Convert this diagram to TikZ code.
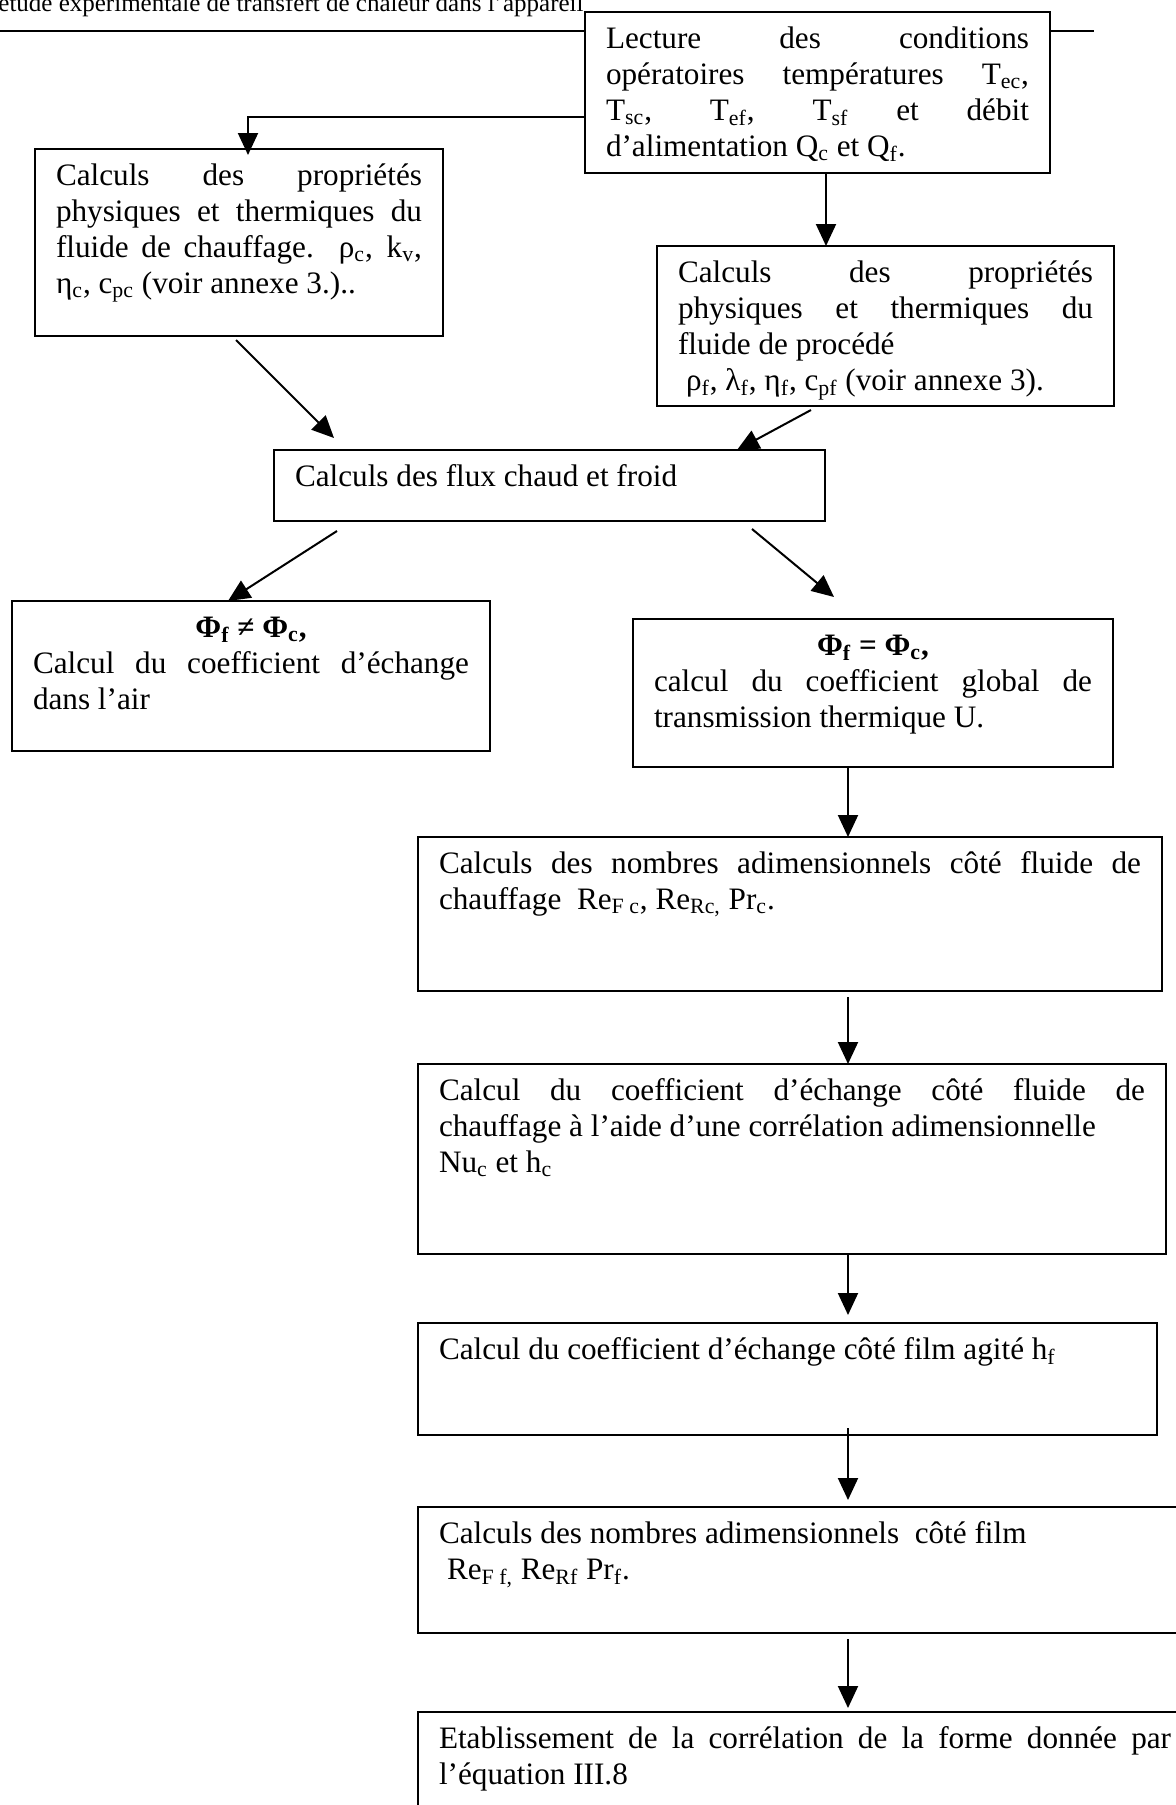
\documentclass[tikz,border=0pt]{standalone}
\usepackage{fontspec}
\setmainfont{Liberation Serif}
\usetikzlibrary{arrows.meta,calc}
\newcommand{\sbs}[1]{\textsubscript{#1}}
\newcommand{\bodyfnt}{\fontsize{15.6}{18}\selectfont}
\newcommand{\jl}[1]{\makebox[\linewidth][s]{\strut#1}\par}
\newcommand{\mkbox}[6]{%
  \node[flowbox] (#1) at (#2,#3) {\parbox[c][\dimexpr 0.5pt*(#5-#3)-11pt\relax][t]{\dimexpr 0.5pt*(#4-#2)-21pt\relax}{\bodyfnt\parindent=0pt\strut #6}};}
\tikzset{
  flowbox/.style={draw, line width=1.2pt, anchor=north west, inner xsep=10.5pt, inner ysep=5.5pt, outer sep=0pt},
  arr/.style={line width=1pt, -{Triangle[length=11pt,width=10pt]}},
  rule/.style={line width=1.1pt}
}
\begin{document}
\begin{tikzpicture}[x=0.5pt,y=-0.5pt]
\useasboundingbox (0,0) rectangle (1175,1805);
\node[anchor=base west, inner sep=0pt, font=\fontsize{12.5}{14}\selectfont] (hdr) at (-2,11) {etude expérimentale de transfert de chaleur dans l’appareil};

\mkbox{top}{585}{12}{1050}{173}{\jl{Lecture des conditions}\jl{opératoires températures T\sbs{ec},}\jl{T\sbs{sc}, T\sbs{ef}, T\sbs{sf} et débit}d’alimentation Q\sbs{c} et Q\sbs{f}.}
\mkbox{b2}{35}{149}{443}{336}{\jl{Calculs des propriétés}\jl{physiques et thermiques du}\jl{fluide de chauffage. ρ\sbs{c}, k\sbs{v},}η\sbs{c}, c\sbs{pc} (voir annexe 3.)..}
\mkbox{b3}{657}{246}{1114}{406}{\jl{Calculs des propriétés}\jl{physiques et thermiques du}fluide de procédé\par\hspace{4pt}ρ\sbs{f}, λ\sbs{f}, η\sbs{f}, c\sbs{pf} (voir annexe 3).}
\mkbox{b4}{274}{450}{825}{521}{Calculs des flux chaud et froid}
\mkbox{b5}{12}{601}{490}{751}{{\centering\textbf{Φ\sbs{f} ≠ Φ\sbs{c},}\par}\jl{Calcul du coefficient d’échange}dans l’air}
\mkbox{b6}{633}{619}{1113}{767}{{\centering\textbf{Φ\sbs{f} = Φ\sbs{c},}\par}\jl{calcul du coefficient global de}transmission thermique U.}
\mkbox{b7}{418}{837}{1162}{991}{\jl{Calculs des nombres adimensionnels côté fluide de}chauffage\ \ Re\sbs{F c}, Re\sbs{Rc,} Pr\sbs{c}.}
\mkbox{b8}{418}{1064}{1166}{1254}{\jl{Calcul du coefficient d’échange côté fluide de}chauffage à l’aide d’une corrélation adimensionnelle\par Nu\sbs{c} et h\sbs{c}}
\mkbox{b9}{418}{1323}{1157}{1435}{Calcul du coefficient d’échange côté film agité h\sbs{f}}
\mkbox{b10}{418}{1507}{1192}{1633}{Calculs des nombres adimensionnels\ \ côté film\par\hspace{4pt}Re\sbs{F f,} Re\sbs{Rf} Pr\sbs{f}.}
\mkbox{b11}{418}{1712}{1192}{1840}{\jl{Etablissement de la corrélation de la forme donnée par}l’équation III.8}

\coordinate (hl) at (0,31);
\coordinate (hr) at (1094,31);
\draw[rule] (hl) -- (top.west |- hl);
\draw[rule] (top.east |- hr) -- (hr);

\coordinate (k1) at (248,117);
\draw[arr] (top.west |- k1) -| ($(b2.north -| k1)+(0,6)$);
\coordinate (k2) at (826,0);
\draw[arr] (top.south -| k2) -- (b3.north -| k2);

\draw[arr] ($(b2.south)+(-3,4)$) -- ($(b4.north west)+(60,-12)$);
\draw[arr] ($(b3.south)+(-74.5,4)$) -- ($(b4.north east)+(-88,0)$);
\draw[arr] ($(b4.south west)+(63,10)$) -- ($(b5.north west)+(216,0)$);
\draw[arr] ($(b4.south east)+(-73,8)$) -- ($(b6.north west)+(201,-22)$);

\coordinate (k3) at (848,0);
\draw[arr] (b6.south -| k3) -- (b7.north -| k3);
\draw[arr] ($(b7.south -| k3)+(0,6)$) -- (b8.north -| k3);
\draw[arr] (b8.south -| k3) -- ($(b9.north -| k3)+(0,-8)$);
\draw[arr] ($(b9.south -| k3)+(0,-7)$) -- ($(b10.north -| k3)+(0,-7)$);
\draw[arr] ($(b10.south -| k3)+(0,6)$) -- ($(b11.north -| k3)+(0,-4)$);
\end{tikzpicture}
\end{document}
